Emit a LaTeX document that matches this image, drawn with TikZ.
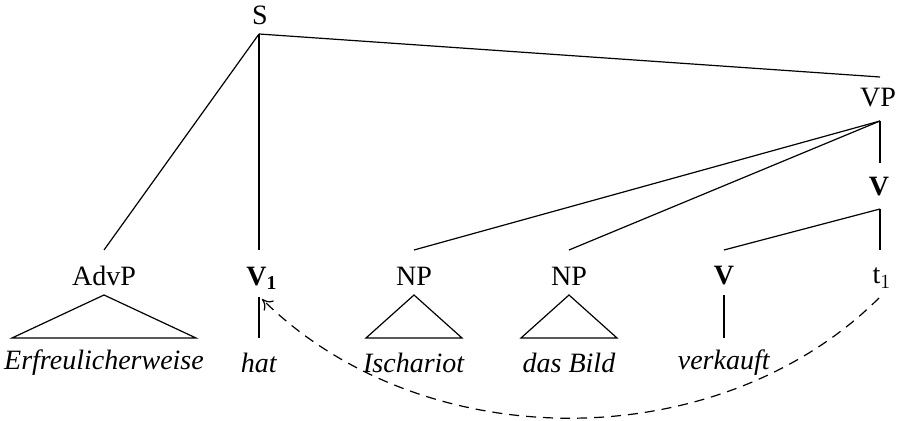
\documentclass[tikz,border=0pt]{standalone}
\usepackage{fontspec}
\setmainfont{Liberation Serif}
\usetikzlibrary{arrows.meta}
\begin{document}
\begin{tikzpicture}[x=0.5pt,y=-0.5pt,
  lbl/.style={font=\fontsize{14}{16}\selectfont, inner sep=0pt},
  tree/.style={line width=0.6pt},
  mov/.style={line width=0.6pt, dash pattern=on 5pt off 3.5pt, -{To[length=5pt,width=7pt]}}]
\useasboundingbox (0,0) rectangle (900,421);
% labels
\node[lbl] (S) at (260,15) {S};
\node[lbl] (VP) at (878,98) {VP};
\node[lbl] (Vbar) at (879,187) {\textbf{V}};
\node[lbl] (AdvP) at (104,276) {AdvP};
\node[lbl] (V1) at (262,278) {\textbf{V}$_{\mathbf{1}}$};
\node[lbl] (NP1) at (414,276) {NP};
\node[lbl] (NP2) at (569,276) {NP};
\node[lbl] (V) at (724,276) {\textbf{V}};
\node[lbl] (t1) at (882,278) {t$_1$};
\node[lbl] (w1) at (104,363) {\textit{Erfreulicherweise}};
\node[lbl] (w2) at (259,363) {\textit{hat}};
\node[lbl] (w3) at (414,363) {\textit{Ischariot}};
\node[lbl] (w4) at (569,363) {\textit{das Bild}};
\node[lbl] (w5) at (724,363) {\textit{verkauft}};
% attachment points
\coordinate (Sb) at (259,34);
\coordinate (VPt) at (880,77);
\coordinate (VPb) at (880,121);
\coordinate (Vbart) at (880,163);
\coordinate (Vbarb) at (880,209);
\coordinate (AdvPt) at (104,250);
\coordinate (AdvPb) at (104,295);
\coordinate (V1t) at (259,250);
\coordinate (V1b) at (259,297);
\coordinate (NP1t) at (414,250);
\coordinate (NP1b) at (414,295);
\coordinate (NP2t) at (569,250);
\coordinate (NP2b) at (569,295);
\coordinate (Vt) at (724,250);
\coordinate (Vb) at (724,295);
\coordinate (t1t) at (880,250);
\coordinate (t1b) at (879,298);
\coordinate (w2t) at (259,338);
\coordinate (w5t) at (724,338);
\coordinate (tri1l) at (12,338);
\coordinate (tri1r) at (196,338);
\coordinate (tri2l) at (366,338);
\coordinate (tri2r) at (462,338);
\coordinate (tri3l) at (521,338);
\coordinate (tri3r) at (617,338);
\coordinate (arrEnd) at (262,299);
% tree
\draw[tree] (Sb) -- (AdvPt);
\draw[tree] (Sb) -- (V1t);
\draw[tree] (Sb) -- (VPt);
\draw[tree] (VPb) -- (NP1t);
\draw[tree] (VPb) -- (NP2t);
\draw[tree] (VPb) -- (Vbart);
\draw[tree] (Vbarb) -- (Vt);
\draw[tree] (Vbarb) -- (t1t);
\draw[tree] (AdvPb) -- (tri1l) -- (tri1r) -- cycle;
\draw[tree] (NP1b) -- (tri2l) -- (tri2r) -- cycle;
\draw[tree] (NP2b) -- (tri3l) -- (tri3r) -- cycle;
\draw[tree] (w2t) -- (V1b);
\draw[tree] (Vb) -- (w5t);
% movement
\draw[mov] (t1b) .. controls (718,458) and (423,458) .. (arrEnd);
\end{tikzpicture}
\end{document}
